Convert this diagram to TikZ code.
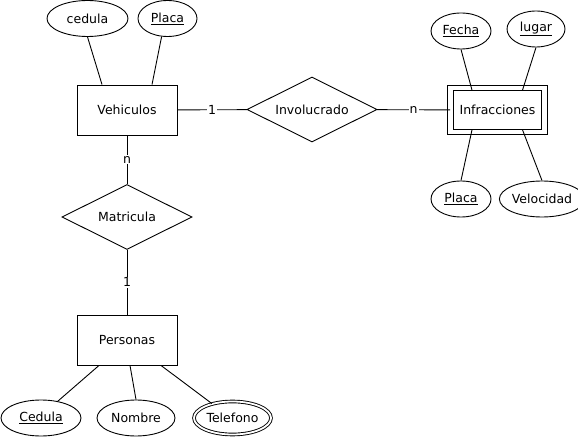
\documentclass[tikz,border=0pt]{standalone}
\usepackage{fontspec}
\setmainfont{DejaVu Sans}
\usetikzlibrary{shapes.geometric}
\begin{document}
\begin{tikzpicture}[x=1pt,y=-1pt,line width=0.9pt,
  every node/.style={font=\fontsize{12.5}{14}\selectfont},
  ent/.style={draw,rectangle,minimum width=100pt,minimum height=50pt,inner sep=0pt},
  went/.style={draw,rectangle,double,double distance=4.5pt,minimum width=94pt,minimum height=44pt,inner sep=0pt},
  rel/.style={draw,diamond,aspect=2,minimum width=130pt,minimum height=65pt,inner sep=0pt},
  attr/.style={draw,ellipse,minimum height=36pt,inner sep=0pt},
  mattr/.style={draw,ellipse,double,double distance=1.8pt,minimum height=33pt,inner sep=0pt},
  lbl/.style={fill=white,inner sep=1pt,midway}]
\useasboundingbox (0,0) rectangle (578,438);
% entities
\node[ent] (veh) at (127,110) {Vehiculos};
\node[went] (inf) at (497.5,110) {Infracciones};
\node[ent] (per) at (127,340) {Personas};
% relationships
\node[rel] (inv) at (312,109.5) {Involucrado};
\node[rel] (mat) at (127,217) {Matricula};
% attributes
\node[attr,minimum width=81pt] (ced) at (87.5,18.5) {cedula};
\node[attr,minimum width=59pt] (pla) at (167.5,18.5) {\underline{Placa}};
\node[attr,minimum width=60pt] (fec) at (461,31) {\underline{Fecha}};
\node[attr,minimum width=58pt] (lug) at (536,29) {\underline{lugar}};
\node[attr,minimum width=60pt] (pla2) at (461,199) {\underline{Placa}};
\node[attr,minimum width=69pt] (vel) at (542,199) {Velocidad};
\node[attr,minimum width=80pt] (ced2) at (41,418) {\underline{Cedula}};
\node[attr,minimum width=78pt] (nom) at (136,418) {Nombre};
\node[mattr,minimum width=77pt] (tel) at (232.5,418) {Telefono};
% relationship connectors
\draw (veh) -- node[lbl]{1} (inv);
\draw (inv) -- node[lbl]{n} (inf);
\draw (veh) -- node[lbl]{n} (mat);
\draw (mat) -- node[lbl]{1} (per);
% attribute connectors
\draw ([xshift=-25pt]veh.north) -- (ced.south);
\draw ([xshift=25pt]veh.north) -- (pla.-108);
\draw ([xshift=-25.5pt,yshift=-2.6pt]inf.north) -- (fec.south);
\draw ([xshift=25pt,yshift=-2.6pt]inf.north) -- (lug.south);
\draw ([xshift=-25.5pt,yshift=2.6pt]inf.south) -- (pla2.north);
\draw ([xshift=25pt,yshift=2.6pt]inf.south) -- (vel.north);
\draw ([xshift=-28pt]per.south) -- (ced2.45);
\draw ([xshift=3pt]per.south) -- (nom.north);
\draw ([xshift=34pt]per.south) -- (tel.145);
\end{tikzpicture}
\end{document}
